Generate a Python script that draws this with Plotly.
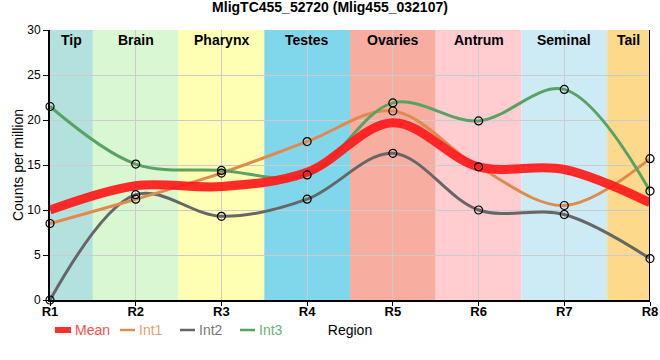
import plotly.graph_objects as go

regions = ["R1", "R2", "R3", "R4", "R5", "R6", "R7", "R8"]
mean = [10.0, 12.7, 12.6, 14.2, 19.7, 14.8, 14.5, 10.8]
int1 = [8.5, 11.2, 14.1, 17.6, 21.0, 14.8, 10.5, 15.7]
int2 = [0.0, 11.7, 9.3, 11.2, 16.3, 10.0, 9.5, 4.6]
int3 = [21.5, 15.1, 14.4, 13.9, 21.9, 19.9, 23.4, 12.1]

bands = ["Tip", "Brain", "Pharynx", "Testes", "Ovaries", "Antrum", "Seminal", "Tail"]
band_colors = ["#b3e2de", "#d9f7d1", "#ffffb3", "#80d6eb", "#f7ad9f", "#ffccd0", "#cdebf5", "#fdda8b"]

L, R, T, B, W, H = 50, 10, 30, 60, 660, 360
PW, PH = W - L - R, H - T - B


def px(xp):
    return (xp - L) / PW


def py(yp):
    return (H - B - yp) / PH


x = list(range(len(regions)))
fig = go.Figure()

series = [
    ("Int2", int2, "#666666", 3),
    ("Int1", int1, "#e08a4e", 3),
    ("Int3", int3, "#58a263", 3),
    ("Mean", mean, "rgba(255,25,25,0.92)", 9),
]
for name, ys, col, w in series:
    fig.add_trace(go.Scatter(
        x=x, y=ys, mode="lines", line=dict(color=col, width=w, shape="spline", smoothing=1.0),
        name=name, showlegend=False,
    ))
for ys in (int1, int2, int3):
    fig.add_trace(go.Scatter(
        x=x, y=ys, mode="markers", showlegend=False, cliponaxis=False,
        marker=dict(symbol="circle", size=8, color="rgba(0,0,0,0)", line=dict(color="black", width=1.2)),
    ))

for i, (b, c) in enumerate(zip(bands, band_colors)):
    x0 = max(i - 0.5, 0)
    x1 = min(i + 0.5, len(regions) - 1)
    fig.add_vrect(x0=x0, x1=x1, fillcolor=c, line_width=0, layer="below", opacity=1)
    fig.add_annotation(x=(x0 + x1) / 2, y=30, yref="y", yanchor="top", showarrow=False,
                       text=f"<b>{b}</b>", font=dict(size=14, color="black"), yshift=0)

# custom legend (compact swatches like the reference)
legend_items = [
    ("Mean", "#ff3030", "#ff4d4d", 55, 71, 6, "rect"),
    ("Int1", "#e08a4e", "#e8a070", 120, 135, 2.5, "line"),
    ("Int2", "#666666", "#777777", 180, 195, 2.5, "line"),
    ("Int3", "#58a263", "#6ab07a", 240, 255, 2.5, "line"),
]
ly = 330
for name, col, tc, x0p, x1p, th, kind in legend_items:
    if kind == "rect":
        fig.add_shape(type="rect", xref="paper", yref="paper", x0=px(x0p), x1=px(x1p),
                      y0=py(ly + th / 2), y1=py(ly - th / 2), fillcolor=col, line_width=0)
    else:
        fig.add_shape(type="line", xref="paper", yref="paper", x0=px(x0p), x1=px(x1p),
                      y0=py(ly), y1=py(ly), line=dict(color=col, width=th))
    fig.add_annotation(x=px(x1p + 2), y=py(ly), xref="paper", yref="paper", xanchor="left",
                       yanchor="middle", showarrow=False, text=name,
                       font=dict(size=14, color=tc))

fig.update_layout(
    width=W, height=H,
    margin=dict(l=L, r=R, t=T, b=B),
    paper_bgcolor="white", plot_bgcolor="white",
    showlegend=False,
    font=dict(family="Liberation Sans, Arial, sans-serif", size=12, color="black"),
    title=dict(text="<b>MligTC455_52720 (Mlig455_032107)</b>", x=0.5, xanchor="center",
               y=0.9805, yanchor="middle", font=dict(size=14)),
    xaxis=dict(range=[0, 7], tickvals=x, ticktext=[f"<b>{r}</b>" for r in regions],
               showgrid=True, gridcolor="#cccccc", gridwidth=1, layer="above traces",
               showline=True, linecolor="black", linewidth=2, mirror=False,
               ticks="outside", ticklen=4, tickcolor="black", zeroline=False,
               tickfont=dict(size=13), automargin=False, ticklabelstandoff=-6,
               title=dict(text="Region", font=dict(size=14), standoff=8)),
    yaxis=dict(range=[0, 30], tickvals=[0, 5, 10, 15, 20, 25, 30],
               showgrid=True, gridcolor="#cccccc", gridwidth=1,
               showline=True, linecolor="black", linewidth=2,
               ticks="outside", ticklen=5, tickcolor="black", zeroline=False,
               tickfont=dict(size=12), automargin=False,
               title=dict(text="Counts per million", font=dict(size=14), standoff=0)),
)
fig.add_shape(type="line", xref="x", yref="paper", x0=7, x1=7, y0=0, y1=1,
              line=dict(color="black", width=2))

fig.write_html("out.html", config={"displayModeBar": False},
               post_script="document.body.style.margin='0';")
